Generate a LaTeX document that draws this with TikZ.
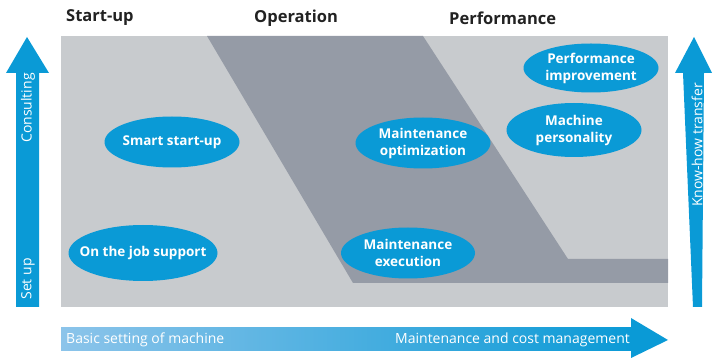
\documentclass[tikz,border=0pt]{standalone}
\usepackage{fontspec}
\setmainfont{Open Sans}
\usetikzlibrary{shapes.geometric}
\definecolor{lightgrey}{HTML}{C8CBCE}
\definecolor{darkgrey}{HTML}{959BA6}
\definecolor{bblue}{HTML}{0A9AD6}
\definecolor{lblue}{HTML}{8CC4EA}
\definecolor{headtxt}{HTML}{222222}
\begin{document}
\begin{tikzpicture}[x=1pt,y=-1pt,
  bubble/.style={ellipse,fill=bblue,text=white,font=\fontsize{13.5}{17}\selectfont\bfseries,align=center,inner xsep=-14pt,inner ysep=0pt},
  heading/.style={anchor=west,text=headtxt,font=\fontsize{16.5}{19}\selectfont\bfseries,inner sep=0pt},
  arrowlabel/.style={text=white,font=\fontsize{14}{16}\selectfont,inner sep=0pt}]
\useasboundingbox (0,0) rectangle (713,358);
% panel
\fill[lightgrey] (61,36) rectangle (668,307);
\fill[darkgrey] (207,36) -- (423,36) -- (568,259) -- (668,259) -- (668,283) -- (353,283) -- cycle;
% headings
\node[heading] (h1) at (66,18) {Start-up};
\node[heading] (h2) at (254,18) {Operation};
\node[heading] (h3) at (449,18) {Performance};
% left arrow
\fill[bblue] (16,307) -- (16,73) -- (6,73) -- (27,37) -- (49,73) -- (39,73) -- (39,307) -- cycle;
\node[arrowlabel,rotate=90] (cons) at (28,108) {Consulting};
\node[arrowlabel,rotate=90] (setup) at (28,279) {Set up};
% right arrow
\fill[bblue] (693,307) -- (683,73) -- (675,73) -- (694,37) -- (712,73) -- (704,73) -- (702,307) -- cycle;
\node[arrowlabel,rotate=90] (know) at (697,145) {Know-how transfer};
% bottom arrow
\shade[left color=lblue,right color=bblue] (61,328) rectangle (632,351);
\fill[bblue] (631,318) -- (668,340) -- (631,358) -- cycle;
\node[arrowlabel,anchor=west] (basic) at (66,339.5) {Basic setting of machine};
\node[arrowlabel,anchor=east] (maint) at (630,339.5) {Maintenance and cost management};
% bubbles
\node[bubble,minimum width=135,minimum height=51] (ss) at (172,142) {Smart start-up};
\node[bubble,minimum width=149,minimum height=56] (oj) at (143,253) {On the job support};
\node[bubble,minimum width=135,minimum height=51] (mo) at (423,143) {Maintenance\\optimization};
\node[bubble,minimum width=135,minimum height=49] (pi) at (591,68) {Performance\\improvement};
\node[bubble,minimum width=135,minimum height=54] (mp) at (574,130) {Machine\\personality};
\node[bubble,minimum width=134,minimum height=51] (me) at (408,253) {Maintenance\\execution};
\end{tikzpicture}
\end{document}
